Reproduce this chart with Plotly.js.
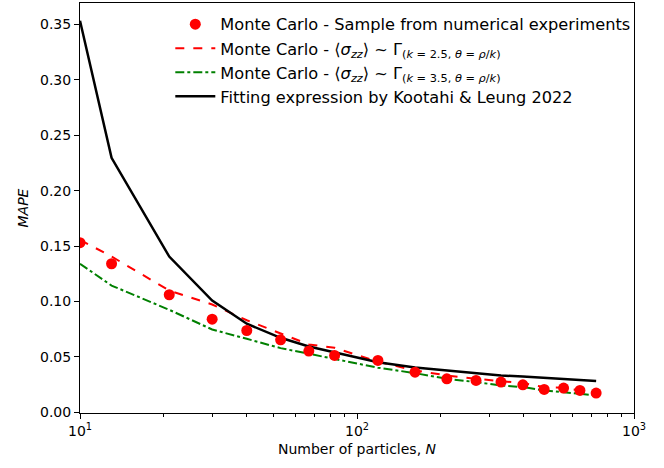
<!DOCTYPE html>
<html>
<head>
<meta charset="utf-8">
<script src="https://cdn.plot.ly/plotly-3.0.1.min.js"></script>
<style>html,body{margin:0;padding:0;background:#fff;}#chart{width:664px;height:468px;}</style>
</head>
<body>
<div id="chart"></div>
<script>
// Number of particles
const N = [10, 13, 21, 30, 40, 53, 67, 83, 119, 162, 211, 269, 331, 397, 474, 557, 638, 730];
// Monte Carlo sample points
const mcSample = [0.153, 0.134, 0.106, 0.0839, 0.0737, 0.0653, 0.0551, 0.0512, 0.0467, 0.0361, 0.0301, 0.0286, 0.0271, 0.0247, 0.0205, 0.0217, 0.0196, 0.0172];
// Gamma k=2.5
const gammaK25 = [0.1556, 0.1405, 0.1098, 0.0972, 0.0830, 0.0707, 0.0611, 0.0581, 0.0455, 0.0376, 0.0331, 0.0301, 0.0277, 0.0262, 0.0226, 0.0220, 0.0196, 0.0175];
// Gamma k=3.5
const gammaK35 = [0.1340, 0.1143, 0.0924, 0.0746, 0.0662, 0.0578, 0.0527, 0.0482, 0.0401, 0.0352, 0.0301, 0.0271, 0.0241, 0.0226, 0.0196, 0.0180, 0.0166, 0.0151];
// Fitting expression Kootahi & Leung 2022
const fitting = [0.3535, 0.2296, 0.1405, 0.1008, 0.0798, 0.0671, 0.0593, 0.0541, 0.0451, 0.0403, 0.0376, 0.0349, 0.0331, 0.0322, 0.0309, 0.0295, 0.0286, 0.0280];

const xTickVals = [10, 100, 1000];
const xTickText = ['10<sup>1</sup>', '10<sup>2</sup>', '10<sup>3</sup>'];
const xMinorVals = [2,3,4,5,6,7,8,9,20,30,40,50,60,70,80,90,200,300,400,500,600,700,800,900];

const font = {family: 'DejaVu Sans, sans-serif', size: 14, color: '#000'};

const traces = [
  {x: N, y: gammaK25, mode: 'lines', type: 'scatter',
   name: 'Monte Carlo - ⟨<i>σ</i><sub><i>zz</i></sub>⟩ ~ Γ<sub>(<i>k</i> = 2.5, <i>θ</i> = <i>ρ</i>/<i>k</i>)</sub>',
   line: {color: '#ff0000', width: 2, dash: 'dash'}, legendrank: 2},
  {x: N, y: gammaK35, mode: 'lines', type: 'scatter',
   name: 'Monte Carlo - ⟨<i>σ</i><sub><i>zz</i></sub>⟩ ~ Γ<sub>(<i>k</i> = 3.5, <i>θ</i> = <i>ρ</i>/<i>k</i>)</sub>',
   line: {color: '#008000', width: 2, dash: 'dashdot'}, legendrank: 3},
  {x: N, y: fitting, mode: 'lines', type: 'scatter',
   name: 'Fitting expression by Kootahi &amp; Leung 2022',
   line: {color: '#000000', width: 2.5}, legendrank: 4},
  {x: N, y: mcSample, mode: 'markers', type: 'scatter',
   name: 'Monte Carlo - Sample from numerical experiments',
   marker: {color: '#ff0000', size: 11}, legendrank: 1}
];

const layout = {
  width: 664, height: 468,
  margin: {l: 80, r: 30, t: 3, b: 55, pad: 0},
  paper_bgcolor: '#fff', plot_bgcolor: '#fff',
  font: font,
  showlegend: true,
  legend: {x: 0.163, y: 0.99, xanchor: 'left', yanchor: 'top', bgcolor: 'rgba(255,255,255,0)',
           borderwidth: 0, font: {family: 'DejaVu Sans, sans-serif', size: 16.2, color: '#000'},
           itemwidth: 40},
  xaxis: {type: 'log', range: [1, 3], showgrid: false, zeroline: false,
          showline: true, linecolor: '#000', linewidth: 1, mirror: true,
          ticks: 'outside', ticklen: 5, tickwidth: 1, tickcolor: '#000',
          tickmode: 'array', tickvals: xTickVals, ticktext: xTickText,
          minor: {tickmode: 'array', tickvals: xMinorVals, ticks: 'outside', ticklen: 3, tickcolor: '#000', showgrid: false},
          title: {text: 'Number of particles, <i>N</i>', font: font, standoff: 6}},
  yaxis: {range: [-0.0008, 0.3695], showgrid: false, zeroline: false,
          showline: true, linecolor: '#000', linewidth: 1, mirror: true,
          ticks: 'outside', ticklen: 5, tickwidth: 1, tickcolor: '#000',
          tickmode: 'linear', tick0: 0, dtick: 0.05, tickformat: '.2f',
          title: {text: '<i>MAPE</i>', font: font, standoff: 8}}
};

Plotly.newPlot('chart', traces, layout, {displayModeBar: false, staticPlot: true});
</script>
</body>
</html>
